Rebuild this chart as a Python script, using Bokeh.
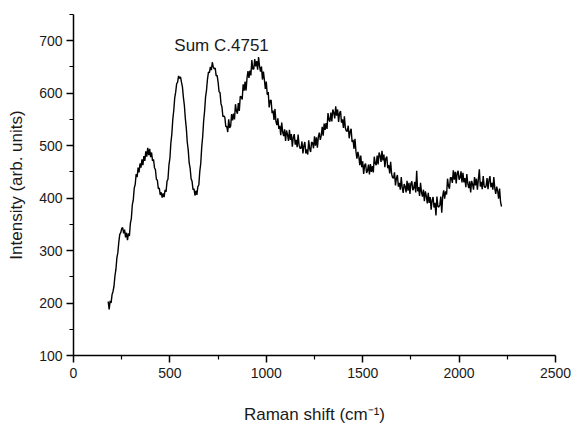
from bokeh.plotting import figure
from bokeh.models import Range1d, FixedTicker, Label
from bokeh.embed import file_html
from bokeh.resources import INLINE

# Raman shift (cm^-1), sampled every 5 cm^-1 from 180 to 2220
shift = list(range(180, 2221, 5))
intensity = [
    203, 188, 204, 200, 216, 222, 232, 252, 264, 286, 296, 316, 331, 334, 342, 344, 333, 340, 325, 334,
    320, 333, 328, 352, 361, 387, 396, 419, 426, 446, 440, 458, 449, 466, 458, 474, 463, 480, 471, 489,
    479, 496, 482, 494, 478, 487, 471, 474, 458, 454, 436, 434, 418, 419, 406, 411, 401, 409, 402, 416,
    412, 432, 436, 463, 476, 505, 522, 550, 567, 591, 602, 618, 621, 633, 628, 631, 621, 612, 592, 577,
    552, 534, 507, 492, 467, 457, 437, 432, 416, 418, 405, 414, 406, 422, 425, 451, 466, 497, 517, 547,
    566, 593, 606, 627, 640, 639, 650, 644, 659, 650, 646, 648, 633, 634, 621, 603, 601, 580, 574, 555,
    557, 554, 536, 537, 526, 550, 534, 537, 560, 548, 561, 550, 579, 566, 561, 581, 566, 594, 593, 588,
    617, 605, 622, 605, 629, 642, 629, 643, 634, 663, 646, 646, 665, 651, 661, 645, 669, 651, 641, 651,
    626, 641, 626, 608, 622, 597, 602, 573, 586, 587, 562, 567, 549, 570, 546, 539, 552, 532, 538, 520,
    544, 526, 518, 531, 509, 529, 521, 509, 530, 511, 522, 498, 516, 522, 502, 511, 497, 521, 501, 495,
    495, 508, 485, 500, 507, 485, 493, 483, 510, 494, 488, 507, 505, 495, 518, 500, 516, 496, 517, 525,
    511, 519, 536, 519, 542, 530, 543, 532, 562, 549, 546, 563, 546, 569, 563, 552, 575, 557, 569, 545,
    562, 566, 544, 550, 534, 556, 534, 528, 527, 538, 514, 527, 532, 507, 511, 494, 513, 489, 475, 488,
    479, 463, 481, 459, 470, 446, 463, 466, 448, 452, 464, 445, 465, 450, 461, 449, 479, 466, 463, 481,
    464, 487, 481, 469, 490, 472, 483, 459, 476, 479, 457, 463, 447, 469, 446, 439, 438, 449, 424, 438,
    444, 422, 429, 416, 440, 420, 410, 427, 422, 411, 433, 414, 429, 408, 428, 432, 415, 419, 431, 411,
    452, 413, 421, 404, 429, 411, 403, 416, 394, 413, 404, 390, 410, 391, 402, 378, 396, 402, 382, 391,
    367, 403, 384, 383, 387, 403, 372, 404, 415, 399, 413, 407, 437, 423, 418, 439, 439, 429, 453, 435,
    450, 428, 448, 452, 435, 439, 451, 430, 448, 430, 438, 421, 446, 428, 419, 432, 411, 433, 426, 416,
    440, 424, 437, 416, 436, 455, 422, 431, 417, 442, 423, 420, 423, 438, 417, 434, 442, 421, 429, 416,
    440, 419, 408, 422, 414, 399, 418, 393, 384,
]

x_major = [0, 500, 1000, 1500, 2000, 2500]
x_minor = [250, 750, 1250, 1750, 2250]
y_major = [100, 200, 300, 400, 500, 600, 700]
y_minor = [150, 250, 350, 450, 550, 650, 750]

title_text = "Sum C.4751"
x_label = "Raman shift (cm\u207b\u00b9)"
y_label = "Intensity (arb. units)"

p = figure(width=572, height=427, output_backend="svg", toolbar_location=None,
           x_range=Range1d(0, 2500), y_range=Range1d(100, 750))
p.min_border_left = 73
p.min_border_right = 17
p.min_border_top = 14
p.min_border_bottom = 72
p.outline_line_color = None
p.xgrid.visible = False
p.ygrid.visible = False
p.background_fill_color = "white"
p.border_fill_color = "white"

p.line(shift, intensity, line_color="black", line_width=1.4)

font = "Liberation Sans"
for ax, ticks, minors in ((p.xaxis[0], x_major, x_minor), (p.yaxis[0], y_major, y_minor)):
    ax.ticker = FixedTicker(ticks=ticks, minor_ticks=minors)
    ax.axis_line_color = "black"
    ax.axis_line_width = 1.5
    ax.major_tick_line_color = "black"
    ax.major_tick_line_width = 1.5
    ax.minor_tick_line_color = "black"
    ax.minor_tick_line_width = 1.2
    ax.major_tick_in = 0
    ax.major_tick_out = 7
    ax.minor_tick_in = 0
    ax.minor_tick_out = 4
    ax.major_label_text_font = font
    ax.major_label_text_font_size = "14px"
    ax.major_label_text_color = "#1a1a1a"
    ax.axis_label_text_font = font
    ax.axis_label_text_font_size = "17px"
    ax.axis_label_text_font_style = "normal"
    ax.axis_label_text_color = "#1a1a1a"

p.xaxis.axis_label = x_label
p.yaxis.axis_label = y_label
p.xaxis.major_label_standoff = 5
p.yaxis.major_label_standoff = 4
p.xaxis.axis_label_standoff = 24
p.yaxis.axis_label_standoff = 10

p.add_layout(Label(x=768, y=690, text=title_text, text_align="center",
                   text_baseline="alphabetic", text_font=font,
                   text_font_size="17px", text_color="#1a1a1a"))

open("out.html", "w").write(file_html(p, INLINE))
